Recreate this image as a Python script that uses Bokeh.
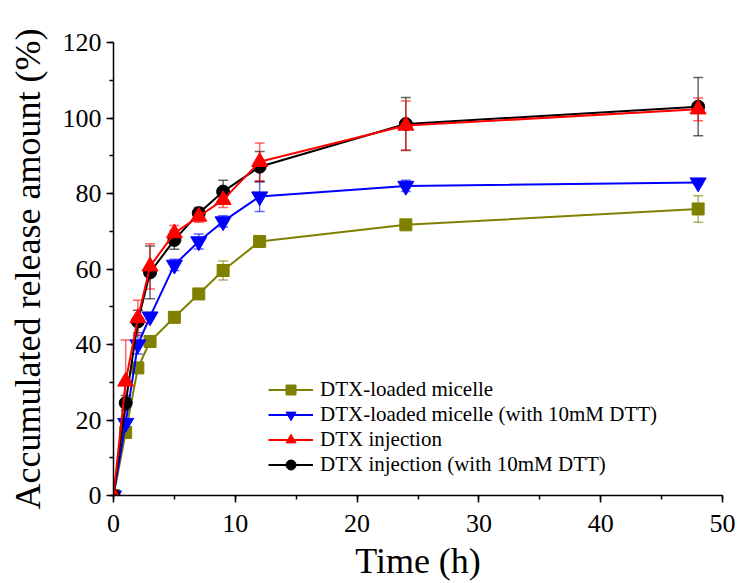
from bokeh.plotting import figure
from bokeh.models import ColumnDataSource, Whisker, TeeHead, Legend, LegendItem, SingleIntervalTicker, Range1d
from bokeh.embed import file_html
from bokeh.resources import INLINE

time_h = [0, 1, 2, 3, 5, 7, 9, 12, 24, 48]

micelle = [0, 16.7, 33.8, 40.8, 47.2, 53.4, 59.6, 67.3, 71.7, 75.9]
micelle_err = [0, 0.5, 0.5, 1.0, 1.5, 0.5, 2.5, 0.5, 1.0, 3.5]

micelle_dtt = [0, 19.2, 40.0, 47.4, 61.1, 67.3, 72.6, 79.2, 82.0, 82.9]
micelle_dtt_err = [0, 1.0, 2.5, 0.5, 1.5, 2.0, 1.5, 4.0, 1.5, 0.5]

injection = [0, 30.2, 47.0, 60.7, 69.5, 73.9, 78.3, 88.4, 98.0, 102.3]
injection_err = [0, 11.0, 4.7, 6.0, 2.0, 1.5, 2.0, 5.0, 6.5, 3.0]

injection_dtt = [0, 24.5, 46.1, 59.1, 67.7, 74.8, 80.5, 87.1, 98.4, 103.0]
injection_dtt_err = [0, 2.0, 3.0, 7.0, 2.5, 1.5, 3.0, 4.0, 7.0, 7.7]

labels = ["DTX-loaded micelle", "DTX-loaded micelle (with 10mM DTT)",
          "DTX injection", "DTX injection (with 10mM DTT)"]

FONT = "Liberation Serif"

p = figure(width=740, height=583, output_backend="svg", toolbar_location=None,
           x_range=Range1d(0, 50), y_range=Range1d(0, 120),
           min_border_left=113, min_border_right=18, min_border_top=42, min_border_bottom=87)
p.outline_line_color = None
p.xgrid.visible = False
p.ygrid.visible = False
p.background_fill_color = "white"

p.xaxis.ticker = SingleIntervalTicker(interval=10, num_minor_ticks=2)
p.yaxis.ticker = SingleIntervalTicker(interval=20, num_minor_ticks=2)
for ax in (p.xaxis, p.yaxis):
    ax.major_label_text_font = FONT
    ax.major_label_text_font_size = "26px"
    ax.major_label_text_color = "black"
    ax.axis_label_text_font = FONT
    ax.axis_label_text_font_size = "36px"
    ax.axis_label_text_font_style = "normal"
    ax.axis_label_text_color = "black"
    ax.axis_line_width = 1.5
    ax.axis_line_color = "black"
    ax.major_tick_line_width = 1.5
    ax.minor_tick_line_width = 1.5
    ax.major_tick_in = 0
    ax.major_tick_out = 7
    ax.minor_tick_in = 0
    ax.minor_tick_out = 4
p.xaxis.axis_label = "Time (h)"
p.yaxis.axis_label = "Accumulated release amount (%)"
p.xaxis.major_label_standoff = 12
p.xaxis.axis_label_standoff = 6
p.yaxis.major_label_standoff = 5
p.yaxis.axis_label_standoff = 12

series = [
    (micelle, micelle_err, "#808000", "square", 12),
    (micelle_dtt, micelle_dtt_err, "#0000ff", "inverted_triangle", 16),
    (injection, injection_err, "#ff0000", "triangle", 16),
    (injection_dtt, injection_dtt_err, "#000000", "circle", 13),
]

items = {}
draw_order = [0, 1, 3, 2]
for i in draw_order:
    vals, errs, color, marker, size = series[i]
    src = ColumnDataSource(dict(x=time_h, y=vals,
                                lo=[v - e for v, e in zip(vals, errs)],
                                hi=[v + e for v, e in zip(vals, errs)]))
    w = Whisker(source=src, base="x", upper="hi", lower="lo",
                line_color=color, line_alpha=0.6, line_width=1.5,
                upper_head=TeeHead(size=10, line_color=color, line_alpha=0.6, line_width=1.5),
                lower_head=TeeHead(size=10, line_color=color, line_alpha=0.6, line_width=1.5))
    p.add_layout(w)
    ln = p.line("x", "y", source=src, line_color=color, line_width=2)
    sc = p.scatter("x", "y", source=src, marker=marker, size=size,
                   fill_color=color, line_color=color)
    items[i] = (ln, sc)

legend = Legend(items=[LegendItem(label=labels[i], renderers=list(items[i])) for i in range(4)],
                location=(155, 18), border_line_color=None, background_fill_alpha=0,
                label_text_font=FONT, label_text_font_size="21px", label_text_color="black",
                glyph_width=45, glyph_height=25, label_height=25, label_standoff=7,
                spacing=0, padding=0, margin=0)
p.add_layout(legend, "center")

open("out.html", "w").write(file_html(p, INLINE))
